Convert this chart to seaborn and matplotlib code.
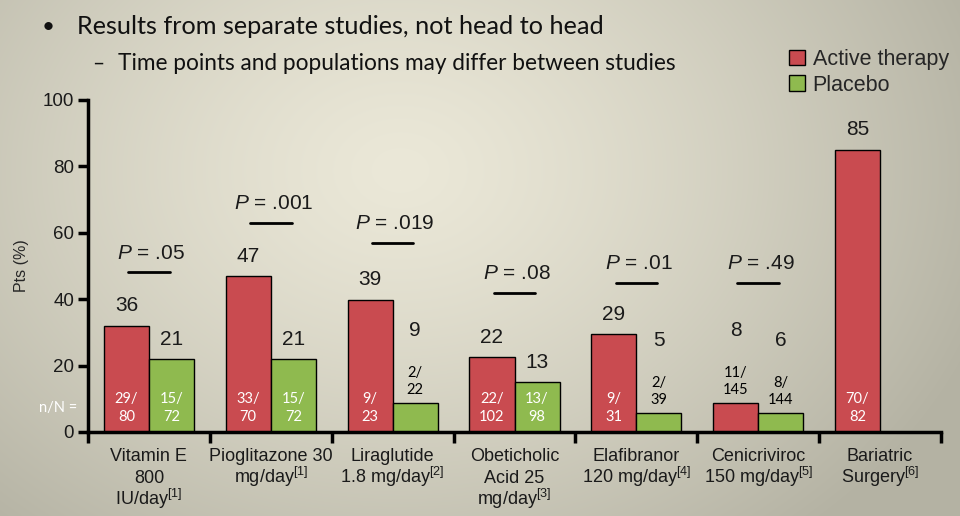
import numpy as np
import pandas as pd
import matplotlib
matplotlib.use("Agg")
import matplotlib.pyplot as plt
from matplotlib.patches import Patch
import seaborn as sns

# ---------------- data ----------------
categories = [
    "Vitamin E\n800\nIU/day$^{[1]}$",
    "Pioglitazone 30\nmg/day$^{[1]}$",
    "Liraglutide\n1.8 mg/day$^{[2]}$",
    "Obeticholic\nAcid 25\nmg/day$^{[3]}$",
    "Elafibranor\n120 mg/day$^{[4]}$",
    "Cenicriviroc\n150 mg/day$^{[5]}$",
    "Bariatric\nSurgery$^{[6]}$",
]
active_height = [32, 47, 39.8, 22.6, 29.5, 8.7, 85]
placebo_height = [22, 22, 8.7, 15, 5.7, 5.7, np.nan]
active_label = ["36", "47", "39", "22", "29", "8", "85"]
placebo_label = ["21", "21", "9", "13", "5", "6", None]
active_nN = ["29/\n80", "33/\n70", "9/\n23", "22/\n102", "9/\n31", "11/\n145", "70/\n82"]
placebo_nN = ["15/\n72", "15/\n72", "2/\n22", "13/\n98", "2/\n39", "8/\n144", None]
p_values = [".05", ".001", ".019", ".08", ".01", ".49", None]
series = ["Active therapy", "Placebo"]

# layout for p-value bars (data units)
p_line_y = [48.2, 63, 57, 42, 45, 45, None]

RED = "#c94b50"
GREEN = "#8fba4f"

sns.set_theme(style="white")
plt.rcParams["font.family"] = ["Liberation Sans", "DejaVu Sans"]
plt.rcParams["mathtext.fontset"] = "custom"
plt.rcParams["mathtext.rm"] = "Liberation Sans"
plt.rcParams["mathtext.it"] = "Liberation Sans:italic"

fig = plt.figure(figsize=(9.6, 5.16), dpi=100)

# background gradient
bg = fig.add_axes([0, 0, 1, 1], zorder=-10)
H, W = 516, 960
yy, xx = np.mgrid[0:H, 0:W]
d = np.sqrt(((xx - 400) / 620.0) ** 2 + ((yy - 170) / 480.0) ** 2)
t = np.clip(d, 0, 1) ** 1.3
light = np.array([0xeb, 0xe8, 0xd8]) / 255.0
dark = np.array([0xb4, 0xb2, 0xa3]) / 255.0
img = light[None, None, :] * (1 - t[..., None]) + dark[None, None, :] * t[..., None]
bg.imshow(img, aspect="auto", extent=[0, 1, 0, 1], origin="upper")
bg.axis("off")

AX_BOTTOM_PX, AX_H_PX = 432, 332
ax = fig.add_axes([88 / 960, (516 - AX_BOTTOM_PX) / 516, 853 / 960, AX_H_PX / 516])
ax.set_facecolor("none")

df = pd.DataFrame({
    "cat": categories * 2,
    "series": [series[0]] * len(categories) + [series[1]] * len(categories),
    "value": active_height + placebo_height,
})

sns.barplot(data=df, x="cat", y="value", hue="series", order=categories,
            hue_order=series, palette=[RED, GREEN], width=0.74, gap=0,
            edgecolor="black", linewidth=1.0, saturation=1, ax=ax,
            legend=False)

ax.set_xlim(-0.5, len(categories) - 0.5)
ax.set_ylim(0, 100)
ax.set_yticks([0, 20, 40, 60, 80, 100])
ax.tick_params(axis="y", labelsize=13.5, length=7, width=2.5, direction="out",
               color="black", pad=3, left=True, labelcolor="#1a1a1a")
ax.set_xticks(range(len(categories)))
ax.set_xticklabels([])
ax.tick_params(axis="x", length=0)
ax.set_xticks(np.arange(-0.5, len(categories), 1.0), minor=True)
ax.tick_params(axis="x", which="minor", length=8, width=2.5, direction="out",
               color="black", bottom=True)
for s in ["top", "right"]:
    ax.spines[s].set_visible(False)
for s in ["left", "bottom"]:
    ax.spines[s].set_linewidth(2.5)
    ax.spines[s].set_color("black")
ax.set_xlabel("")
ax.set_ylabel("Pts (%)", fontsize=11.5, labelpad=10)

# category labels, line by line with fixed baselines
xt = ax.get_xaxis_transform()
for i, cat in enumerate(categories):
    for k, line in enumerate(cat.split("\n")):
        base_px = 461 + 22 * k
        ax.text(i, (AX_BOTTOM_PX - base_px) / AX_H_PX, line, transform=xt,
                ha="center", va="baseline", fontsize=13, color="#1a1a1a",
                clip_on=False)

off = 0.185
for i in range(len(categories)):
    for h, lab, nn, dx in [(active_height[i], active_label[i], active_nN[i], -off),
                           (placebo_height[i], placebo_label[i], placebo_nN[i], off)]:
        if lab is None:
            continue
        x = i + dx
        if h >= 12:
            ax.text(x, 7.2, nn, ha="center", va="center", fontsize=10.5,
                    color="white", family=["Lato", "DejaVu Sans"], linespacing=1.35)
            ly = h + 6
        else:
            ax.text(x, h + 6.5, nn, ha="center", va="center", fontsize=10.5,
                    color="black", family=["Lato", "DejaVu Sans"], linespacing=1.35)
            ly = h + 22
        ax.text(x, ly, lab, ha="center", va="center", fontsize=15, color="#1a1a1a")
    if p_values[i] is not None:
        yl = p_line_y[i]
        ax.plot([i - 0.17, i + 0.17], [yl, yl], color="black", lw=2)
        ax.text(i + 0.02, yl + 5.7, "$P$ = " + p_values[i], ha="center", va="center",
                fontsize=15, color="#1a1a1a")

ax.text(-0.59, 7.2, "n/N =", ha="right", va="center", fontsize=10.5,
        color="white", family=["Lato", "DejaVu Sans"], clip_on=False)

handles = [Patch(facecolor=RED, edgecolor="black", linewidth=1),
           Patch(facecolor=GREEN, edgecolor="black", linewidth=1)]
fig.legend(handles, series, loc="upper left", bbox_to_anchor=(789 / 960, 1 - 49 / 516),
           frameon=False, fontsize=15.5, handlelength=0.75, handleheight=0.75,
           handletextpad=0.35, labelspacing=0.22, borderaxespad=0, borderpad=0)

fig.text(42 / 960, 1 - 27 / 516, "\u2022", fontsize=16, va="center", ha="left",
         family=["Lato", "DejaVu Sans"], color="#111111")
fig.text(77 / 960, 1 - 27 / 516, "Results from separate studies, not head to head",
         fontsize=18.2, va="center", ha="left", family=["Lato", "DejaVu Sans"], color="#111111")
fig.text(92 / 960, 1 - 64 / 516, "\u2013", fontsize=15, va="center", ha="left",
         family=["Lato", "DejaVu Sans"], color="#111111")
fig.text(118 / 960, 1 - 64 / 516, "Time points and populations may differ between studies",
         fontsize=16.3, va="center", ha="left", family=["Lato", "DejaVu Sans"], color="#111111")

fig.savefig("out.png", dpi=100)
